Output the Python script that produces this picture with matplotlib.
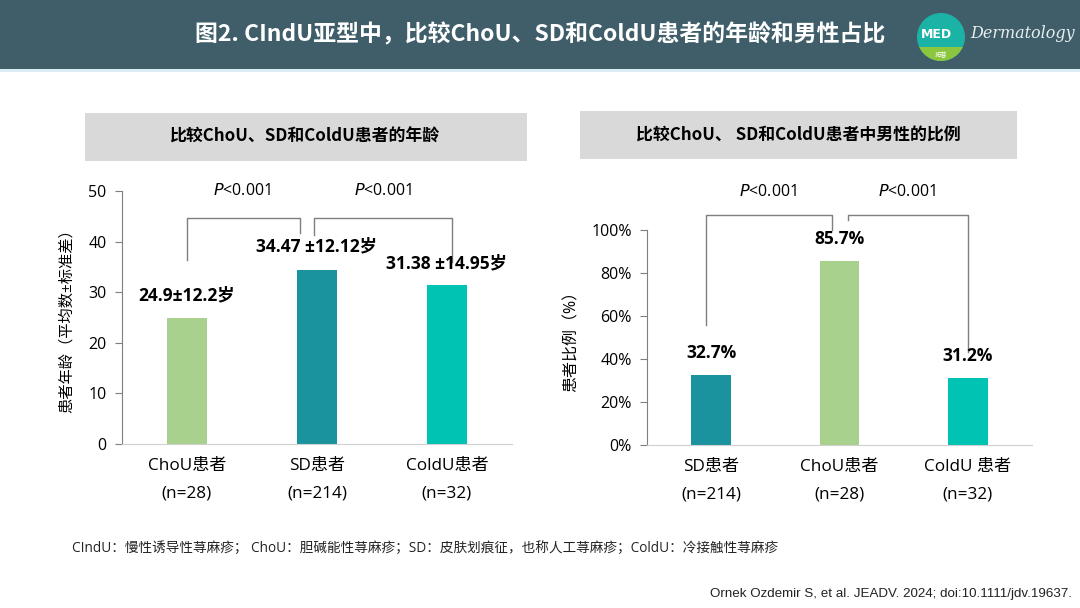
import matplotlib
matplotlib.use('Agg')
import matplotlib.pyplot as plt
import matplotlib.patches as patches

CJK = ['Open Sans', 'Noto Sans CJK SC', 'DejaVu Sans']
plt.rcParams['font.family'] = CJK
plt.rcParams['axes.unicode_minus'] = False

# ---- data ----
age_groups = ['ChoU患者', 'SD患者', 'ColdU患者']
age_n = ['(n=28)', '(n=214)', '(n=32)']
age_mean = [24.9, 34.47, 31.38]
age_labels = ['24.9±12.2岁', '34.47 ±12.12岁', '31.38 ±14.95岁']

male_groups = ['SD患者', 'ChoU患者', 'ColdU 患者']
male_n = ['(n=214)', '(n=28)', '(n=32)']
male_pct = [32.7, 85.7, 31.2]
male_labels = ['32.7%', '85.7%', '31.2%']

GREEN = '#A9D18E'
TEAL = '#1A939E'
TURQ = '#00C3B4'
age_colors = [GREEN, TEAL, TURQ]
male_colors = [TEAL, GREEN, TURQ]

W, H = 1080, 608
fig = plt.figure(figsize=(W / 100, H / 100), dpi=100)
fig.patch.set_facecolor('white')

# background / decoration layer in pixel coordinates
bg = fig.add_axes([0, 0, 1, 1], zorder=0)
bg.set_xlim(0, W)
bg.set_ylim(H, 0)
bg.axis('off')

bg.add_patch(patches.Rectangle((0, 0), W, 69, color='#3F5E69', lw=0))
bg.add_patch(patches.Rectangle((0, 69), W, 3, color='#DCEEF5', lw=0))
bg.text(540, 35, '图2. CIndU亚型中，比较ChoU、SD和ColdU患者的年龄和男性占比',
        color='white', fontsize=16.5, fontweight='bold', ha='center', va='center',
        family=['Noto Sans CJK SC', 'DejaVu Sans'])

# logo
circ = patches.Circle((941, 37), 24, color='#1BB3A6', lw=0)
bg.add_patch(circ)
band = patches.Rectangle((915, 47), 55, 20, color='#8CC63F', lw=0)
bg.add_patch(band)
band.set_clip_path(circ)
bg.text(936, 35, 'MED', color='white', fontsize=9, fontweight='bold',
        ha='center', va='center', family='DejaVu Sans')
bg.text(941, 55, '拓普', color='white', fontsize=4.5, ha='center', va='center',
        family=['Noto Sans CJK SC'])
bg.text(970, 34, 'Dermatology', color='#E8EEF0', fontsize=11.5, style='italic',
        ha='left', va='center', family='DejaVu Serif')

# panel title boxes
bg.add_patch(patches.Rectangle((85, 113), 442, 48, color='#D9D9D9', lw=0))
bg.text(304, 137, '比较ChoU、SD和ColdU患者的年龄', fontsize=12.2, fontweight='bold',
        ha='center', va='center', family=['Noto Sans CJK SC', 'DejaVu Sans'])
bg.add_patch(patches.Rectangle((580, 111), 437, 48, color='#D9D9D9', lw=0))
bg.text(798, 136, '比较ChoU、 SD和ColdU患者中男性的比例', fontsize=12.2, fontweight='bold',
        ha='center', va='center', family=['Noto Sans CJK SC', 'DejaVu Sans'])

# footnotes
bg.text(72, 549, 'CIndU：慢性诱导性荨麻疹； ChoU：胆碱能性荨麻疹；SD：皮肤划痕征，也称人工荨麻疹；ColdU：冷接触性荨麻疹',
        fontsize=9.8, ha='left', va='center', color='#222222', family=CJK)
bg.text(1072, 594, 'Ornek Ozdemir S, et al. JEADV. 2024; doi:10.1111/jdv.19637.',
        fontsize=9.6, ha='right', va='center', color='#222222',
        family=['Liberation Sans', 'DejaVu Sans'])


def style_axes(ax):
    ax.set_facecolor('none')
    for s in ['top', 'right']:
        ax.spines[s].set_visible(False)
    ax.spines['left'].set_color('#7F7F7F')
    ax.spines['bottom'].set_color('#D0D0D0')
    ax.tick_params(axis='y', length=5, color='#7F7F7F', labelsize=11.5, pad=6)
    ax.tick_params(axis='x', length=0, pad=10)
    ax.set_xlim(-0.5, 2.5)


def bracket(ax, x0, x1, ytop, y0, y1):
    ax.plot([x0, x0, x1, x1], [y0, ytop, ytop, y1], color='#7F7F7F', lw=1, clip_on=False)


# ---- left chart: age ----
ax1 = fig.add_axes([122 / W, 1 - 444 / H, 390 / W, 253 / H], zorder=1)
style_axes(ax1)
x = range(len(age_groups))
ax1.bar(x, age_mean, width=0.31, color=age_colors)
ax1.set_ylim(0, 50)
ax1.set_yticks(range(0, 51, 10))
ax1.set_xticks(list(x))
ax1.set_xticklabels([f'{g}\n{n}' for g, n in zip(age_groups, age_n)], fontsize=12.3, linespacing=2.0)
ax1.set_ylabel('患者年龄（平均数±标准差）', fontsize=11, labelpad=10, family=CJK)
label_off = [4.5, 4.5, 4.3]
for xi, v, t, off in zip(x, age_mean, age_labels, label_off):
    ax1.text(xi, v + off, t, ha='center', va='center', fontsize=12.5, fontweight='bold')
bracket(ax1, 0, 0.87, 44.7, 36.4, 41.7)
bracket(ax1, 0.98, 2.04, 44.7, 41.3, 36.0)
ax1.text(0.42, 50, '$\\it{P}$<0.001', ha='center', va='center', fontsize=11.5)
ax1.text(1.51, 50, '$\\it{P}$<0.001', ha='center', va='center', fontsize=11.5)

# ---- right chart: male proportion ----
ax2 = fig.add_axes([647 / W, 1 - 445 / H, 385 / W, 215 / H], zorder=1)
style_axes(ax2)
x = range(len(male_groups))
ax2.bar(x, male_pct, width=0.31, color=male_colors)
ax2.set_ylim(0, 100)
ax2.set_yticks(range(0, 101, 20))
ax2.set_yticklabels([f'{v}%' for v in range(0, 101, 20)])
ax2.set_xticks(list(x))
ax2.set_xticklabels([f'{g}\n{n}' for g, n in zip(male_groups, male_n)], fontsize=12.3, linespacing=2.0)
ax2.set_ylabel('患者比例（%）', fontsize=11.5, labelpad=8, family=CJK)
for xi, v, t in zip(x, male_pct, male_labels):
    ax2.text(xi, v + 10, t, ha='center', va='center', fontsize=12.5, fontweight='bold')
bracket(ax2, -0.04, 0.94, 107, 55.8, 100)
bracket(ax2, 1.07, 2.0, 107, 104.5, 43.3)
ax2.text(0.44, 117.5, '$\\it{P}$<0.001', ha='center', va='center', fontsize=11.5)
ax2.text(1.53, 117.5, '$\\it{P}$<0.001', ha='center', va='center', fontsize=11.5)

fig.savefig('out.png', dpi=100)
